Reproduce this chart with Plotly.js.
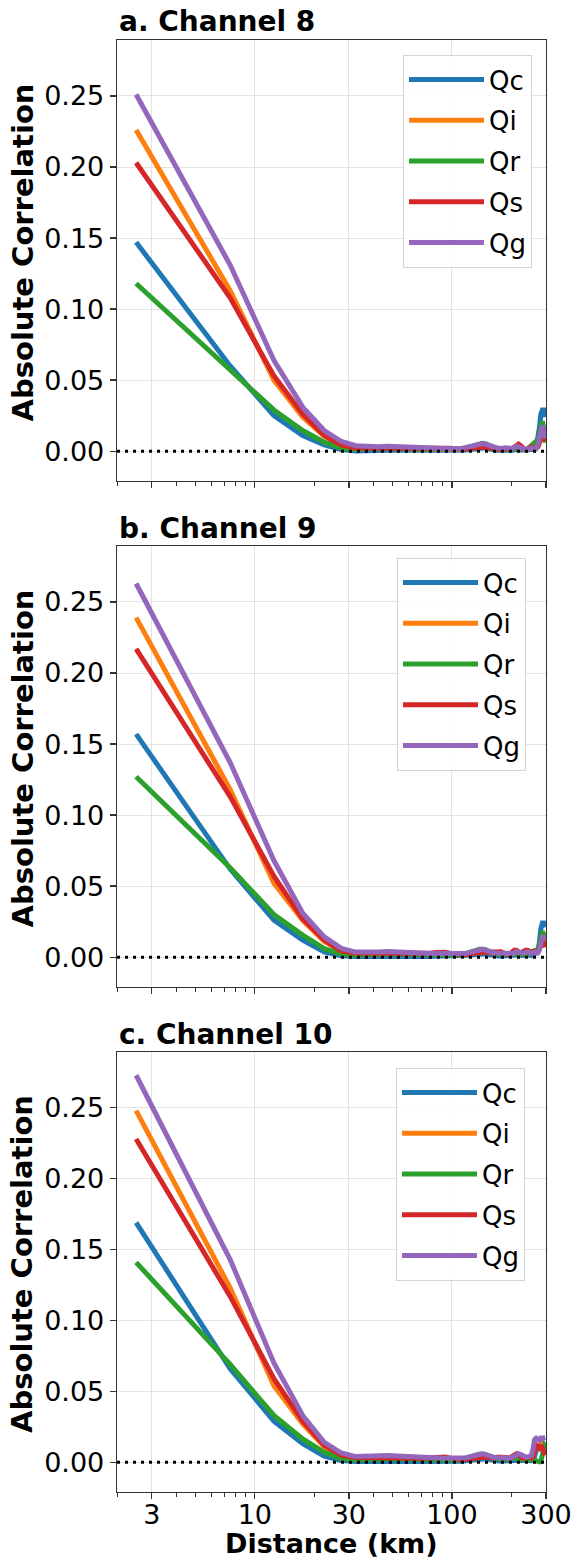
<!DOCTYPE html>
<html>
<head>
<meta charset="utf-8">
<script src="https://cdn.plot.ly/plotly-3.0.1.min.js"></script>
<style>html,body{margin:0;padding:0;background:#fff;}#chart{width:574px;height:1559px;}</style>
</head>
<body>
<div id="chart"></div>
<script>
// Distance bin centres (km)
const dist = [2.5,7.5,12.5,17.5,22.5,27.5,32.5,37.5,42.5,47.5,52.5,57.5,62.5,67.5,72.5,77.5,82.5,87.5,92.5,97.5,
  102.5,107.5,112.5,117.5,122.5,127.5,132.5,137.5,142.5,147.5,152.5,157.5,162.5,167.5,172.5,177.5,182.5,187.5,192.5,197.5,
  202.5,207.5,212.5,217.5,222.5,227.5,232.5,237.5,242.5,247.5,252.5,257.5,262.5,267.5,272.5,277.5,282.5,287.5,292.5,297.5];

const seriesNames = ["Qc","Qi","Qr","Qs","Qg"];
const panelTitles = ["a. Channel 8","b. Channel 9","c. Channel 10"];
const yTickVals = [0,0.05,0.10,0.15,0.20,0.25];
const yTickText = ["0.00","0.05","0.10","0.15","0.20","0.25"];
const xTickVals = [3,10,30,100,300];
const xTickText = ["3","10","30","100","300"];
const xMinorVals = [2,4,5,6,7,8,9,20,40,50,60,70,80,90,200];

// Panel a: Channel 8
const qcA = [.147,.060,.025,.011,.0045,.0012,.0002,
 .0006,.0008,.0010,.0009,.0007,.0005,.0004,.0003,.0004,.0006,
 .0006,.0005,.0003,.0002,.0003,.0005,.0008,.0012,.0016,.0020,
 .0024,.0026,.0024,.0018,.0012,.0009,.0007,.0006,.0005,.0008,
 .0010,.0008,.0006,.0007,.0010,.0014,.0012,.0009,.0007,.0006,
 .0006,.0009,.0012,.0010,.0008,.0012,
 .003,.008,.016,.026,.029,.029,.024];
const qiA = [.226,.113,.050,.024,.0105,.004,.0022,
 .0020,.0022,.0024,.0023,.0020,.0018,.0016,.0015,.0015,.0017,
 .0016,.0013,.0010,.0009,.0011,.0015,.0020,.0026,.0032,.0037,
 .0040,.0042,.0038,.0031,.0026,.0022,.0018,.0015,.0014,.0017,
 .0020,.0017,.0013,.0016,.0022,.0030,.0028,.0020,.0015,.0012,
 .0011,.0013,.0018,.0025,.0022,.0018,
 .0022,.003,.005,.009,.012,.010,.008];
const qrA = [.118,.058,.029,.0145,.0063,.0022,.0012,
 .0018,.0020,.0022,.0022,.0020,.0018,.0016,.0016,.0017,.0018,
 .0017,.0015,.0012,.0010,.0012,.0016,.0022,.0030,.0038,.0046,
 .0052,.0056,.0052,.0042,.0034,.0028,.0022,.0018,.0016,.0018,
 .0020,.0018,.0014,.0016,.0020,.0026,.0024,.0018,.0014,.0012,
 .0012,.0016,.0024,.0034,.0050,.0060,
 .005,.007,.012,.018,.021,.016,.006];
const qsA = [.203,.108,.053,.026,.011,.0045,.0022,
 .0022,.0024,.0026,.0025,.0023,.0021,.0020,.0020,.0022,.0026,
 .0028,.0026,.0020,.0015,.0013,.0014,.0016,.0020,.0024,.0028,
 .0030,.0032,.0030,.0025,.0020,.0017,.0015,.0013,.0012,.0016,
 .0020,.0018,.0015,.0018,.0030,.0045,.0050,.0040,.0025,.0015,
 .0012,.0015,.0022,.0030,.0025,.0020,
 .0022,.003,.006,.010,.013,.010,.007];
const qgA = [.251,.131,.064,.031,.0145,.0068,.0038,
 .0030,.0031,.0034,.0032,.0029,.0026,.0023,.0021,.0020,.0021,
 .0019,.0016,.0013,.0012,.0015,.0020,.0027,.0034,.0041,.0047,
 .0052,.0054,.0049,.0040,.0034,.0029,.0024,.0020,.0018,.0021,
 .0024,.0020,.0015,.0019,.0027,.0034,.0030,.0022,.0017,.0014,
 .0012,.0015,.0020,.0028,.0024,.0020,
 .002,.004,.008,.015,.018,.013,.009];

// Panel b: Channel 9
const qcB = [.157,.062,.026,.012,.0038,.0010,.0005,
 .0006,.0008,.0010,.0009,.0007,.0006,.0005,.0004,.0005,.0006,
 .0006,.0005,.0004,.0003,.0004,.0006,.0009,.0013,.0017,.0021,
 .0025,.0027,.0024,.0019,.0014,.0011,.0009,.0008,.0008,.0010,
 .0012,.0010,.0008,.0009,.0012,.0016,.0014,.0011,.0010,.0012,
 .0016,.0020,.0016,.0012,.0016,.0022,
 .003,.005,.010,.020,.024,.024,.021];
const qiB = [.239,.118,.052,.026,.011,.0042,.0028,
 .0024,.0026,.0028,.0026,.0024,.0022,.0020,.0020,.0020,.0022,
 .0021,.0019,.0017,.0016,.0016,.0018,.0021,.0026,.0032,.0038,
 .0043,.0046,.0042,.0036,.0032,.0030,.0030,.0032,.0030,.0026,
 .0022,.0020,.0020,.0024,.0030,.0036,.0034,.0030,.0034,.0040,
 .0044,.0046,.0040,.0030,.0034,.0040,
 .004,.005,.007,.010,.012,.012,.010];
const qrB = [.127,.063,.030,.0155,.006,.0022,.0014,
 .0020,.0022,.0024,.0024,.0022,.0020,.0018,.0018,.0019,.0020,
 .0019,.0017,.0014,.0012,.0014,.0018,.0024,.0032,.0040,.0048,
 .0055,.0058,.0054,.0044,.0036,.0030,.0025,.0021,.0019,.0020,
 .0022,.0020,.0017,.0018,.0022,.0028,.0026,.0020,.0018,.0018,
 .0022,.0026,.0030,.0034,.0040,.0046,
 .004,.004,.008,.014,.018,.016,.012];
const qsB = [.217,.113,.057,.027,.012,.0045,.0030,
 .0026,.0028,.0030,.0028,.0026,.0024,.0024,.0025,.0028,.0032,
 .0036,.0034,.0028,.0022,.0018,.0018,.0020,.0024,.0028,.0032,
 .0036,.0038,.0036,.0034,.0034,.0036,.0040,.0042,.0038,.0030,
 .0024,.0020,.0026,.0040,.0050,.0048,.0036,.0030,.0036,.0046,
 .0050,.0048,.0040,.0032,.0036,.0042,
 .004,.004,.006,.008,.010,.010,.007];
const qgB = [.263,.137,.068,.031,.0143,.0062,.0036,
 .0034,.0036,.0040,.0036,.0032,.0030,.0028,.0027,.0026,.0027,
 .0026,.0024,.0022,.0020,.0020,.0022,.0026,.0032,.0040,.0047,
 .0053,.0056,.0050,.0042,.0036,.0032,.0030,.0028,.0027,.0026,
 .0024,.0022,.0020,.0024,.0032,.0040,.0036,.0030,.0028,.0030,
 .0034,.0038,.0032,.0026,.0030,.0036,
 .003,.003,.005,.010,.014,.014,.012];

// Panel c: Channel 10
const qcC = [.169,.066,.029,.013,.0042,.0012,.0006,
 .0008,.0010,.0012,.0011,.0009,.0007,.0006,.0005,.0006,.0007,
 .0007,.0006,.0005,.0004,.0005,.0007,.0010,.0014,.0018,.0022,
 .0026,.0028,.0025,.0020,.0015,.0012,.0010,.0009,.0009,.0010,
 .0012,.0010,.0009,.0011,.0015,.0020,.0018,.0014,.0012,.0012,
 .0014,.0016,.0014,
 .001,.002,.004,.008,.010,.011,.013,.013,.014,.014];
const qiC = [.248,.123,.054,.027,.011,.0045,.0032,
 .0030,.0032,.0034,.0032,.0029,.0026,.0024,.0023,.0022,.0023,
 .0022,.0021,.0020,.0019,.0019,.0021,.0025,.0030,.0036,.0042,
 .0046,.0048,.0044,.0038,.0033,.0030,.0028,.0027,.0026,.0025,
 .0023,.0022,.0024,.0030,.0038,.0046,.0044,.0038,.0032,.0030,
 .0030,.0032,.0034,
 .003,.005,.008,.011,.011,.012,.014,.013,.012,.010];
const qrC = [.141,.069,.033,.0165,.007,.0025,.0018,
 .0022,.0024,.0026,.0026,.0024,.0022,.0020,.0020,.0021,.0022,
 .0021,.0019,.0016,.0014,.0016,.0020,.0026,.0034,.0042,.0050,
 .0057,.0060,.0056,.0046,.0038,.0032,.0027,.0023,.0021,.0022,
 .0024,.0022,.0019,.0020,.0024,.0030,.0028,.0022,.0018,.0016,
 .0016,.0018,.0020,
 .002,.002,.002,.001,.0005,.0003,.0005,.006,.012,.014];
const qsC = [.228,.117,.059,.029,.012,.005,.0034,
 .0032,.0034,.0036,.0034,.0031,.0028,.0027,.0028,.0031,.0035,
 .0038,.0036,.0030,.0024,.0020,.0020,.0022,.0026,.0030,.0034,
 .0037,.0039,.0037,.0034,.0032,.0032,.0034,.0036,.0034,.0030,
 .0026,.0024,.0030,.0042,.0054,.0060,.0050,.0038,.0030,.0028,
 .0032,.0036,.0040,
 .003,.004,.008,.012,.011,.010,.012,.010,.008,.005];
const qgC = [.273,.143,.070,.033,.014,.0065,.0040,
 .0045,.0046,.0047,.0044,.0040,.0036,.0033,.0031,.0030,.0030,
 .0029,.0028,.0027,.0026,.0026,.0028,.0032,.0038,.0045,.0052,
 .0057,.0059,.0054,.0046,.0040,.0036,.0034,.0032,.0031,.0030,
 .0028,.0026,.0028,.0034,.0044,.0052,.0060,.0056,.0046,.0040,
 .0036,.0038,.0042,
 .0045,.0090,.0160,.0170,.0162,.0155,.0170,.0165,.0172,.0175];

const panels = [
  [qcA, qiA, qrA, qsA, qgA],
  [qcB, qiB, qrB, qsB, qgB],
  [qcC, qiC, qrC, qsC, qgC]
];
const colors = ["#1f77b4","#ff7f0e","#2ca02c","#d62728","#9467bd"];

const FONT = "DejaVu Sans";
const W = 574, H = 1559;
const mL = 117, mR = 28, mT = 40, mB = 67;
const plotH = H - mT - mB;
// panel pixel extents (top, bottom)
const px = [[40,481],[546,987],[1052,1492]];
const toPaperY = p => (H - mB - p) / plotH;

const traces = [];
const legendNames = ["legend","legend2","legend3"];
panels.forEach((series, pi) => {
  series.forEach((vals, si) => {
    traces.push({
      x: dist, y: vals, type: "scatter", mode: "lines",
      name: seriesNames[si],
      line: {color: colors[si], width: 5},
      xaxis: pi === 0 ? "x" : "x" + (pi + 1),
      yaxis: pi === 0 ? "y" : "y" + (pi + 1),
      legend: legendNames[pi],
      legendgroup: "p" + pi + seriesNames[si],
      showlegend: true
    });
  });
});

const layout = {
  width: W, height: H,
  margin: {l: mL, r: mR, t: mT, b: mB},
  paper_bgcolor: "#fff", plot_bgcolor: "#fff",
  font: {family: FONT, size: 26, color: "#000"},
  showlegend: true,
  annotations: [],
  shapes: []
};

const legendPos = [
  {x: (532 - mL) / 429, y: toPaperY(55)},
  {x: (526 - mL) / 429, y: toPaperY(558)},
  {x: (525 - mL) / 429, y: toPaperY(1068)}
];

for (let pi = 0; pi < 3; pi++) {
  const sx = pi === 0 ? "" : String(pi + 1);
  const dom = [toPaperY(px[pi][1]), toPaperY(px[pi][0])];
  layout["xaxis" + sx] = {
    type: "log", range: [Math.log10(2), Math.log10(300)],
    anchor: "y" + sx, domain: [0, 1],
    tickmode: "array", tickvals: xTickVals, ticktext: xTickText,
    showticklabels: pi === 2,
    ticks: "outside", ticklen: 6, tickwidth: 1.3, tickcolor: "#333",
    ticklabelstandoff: -8,
    minor: {tickmode: "array", tickvals: xMinorVals, ticks: "outside", ticklen: 4, tickwidth: 1, tickcolor: "#333", showgrid: false},
    showgrid: true, gridcolor: "#e3e3e3", gridwidth: 1,
    showline: true, linecolor: "#333", linewidth: 1.3, mirror: true,
    zeroline: false,
    tickfont: {family: FONT, size: 27, color: "#000"},
    fixedrange: true
  };
  layout["yaxis" + sx] = {
    range: [-0.021, 0.2894], domain: dom, anchor: "x" + sx,
    tickmode: "array", tickvals: yTickVals, ticktext: yTickText,
    ticks: "outside", ticklen: 6, tickwidth: 1.3, tickcolor: "#333",
    showgrid: true, gridcolor: "#e3e3e3", gridwidth: 1,
    showline: true, linecolor: "#333", linewidth: 1.3, mirror: true,
    zeroline: false,
    tickfont: {family: FONT, size: 27, color: "#000"},
    fixedrange: true
  };
  layout[legendNames[pi]] = {
    x: legendPos[pi].x, y: legendPos[pi].y, xanchor: "right", yanchor: "top",
    xref: "paper", yref: "paper",
    bgcolor: "rgba(255,255,255,0.85)", bordercolor: "#d5d5d5", borderwidth: 1,
    font: {family: FONT, size: 26, color: "#000"},
    tracegroupgap: 4, itemwidth: 75
  };
  // dotted zero line
  layout.shapes.push({
    type: "line", xref: "x" + sx + " domain", yref: "y" + sx,
    x0: 0, x1: 1, y0: 0, y1: 0,
    line: {color: "#000", width: 3, dash: "3px,5px"}
  });
  // panel title
  layout.annotations.push({
    text: "<b>" + panelTitles[pi] + "</b>", xref: "paper", yref: "paper",
    x: 0, y: toPaperY(px[pi][0] - 18), xanchor: "left", yanchor: "middle",
    showarrow: false, font: {family: FONT, size: 28, color: "#000"}
  });
  // y-axis title
  layout.annotations.push({
    text: "<b>Absolute Correlation</b>", xref: "paper", yref: "paper",
    x: (22 - mL) / 429, y: toPaperY((px[pi][0] + px[pi][1]) / 2 - 8),
    xanchor: "center", yanchor: "middle", textangle: -90,
    showarrow: false, font: {family: FONT, size: 29, color: "#000"}
  });
}
// x-axis title
layout.annotations.push({
  text: "<b>Distance (km)</b>", xref: "paper", yref: "paper",
  x: 0.5, y: toPaperY(1543), xanchor: "center", yanchor: "middle",
  showarrow: false, font: {family: FONT, size: 27, color: "#000"}
});

Plotly.newPlot("chart", traces, layout, {staticPlot: true, displayModeBar: false});
</script>
</body>
</html>
